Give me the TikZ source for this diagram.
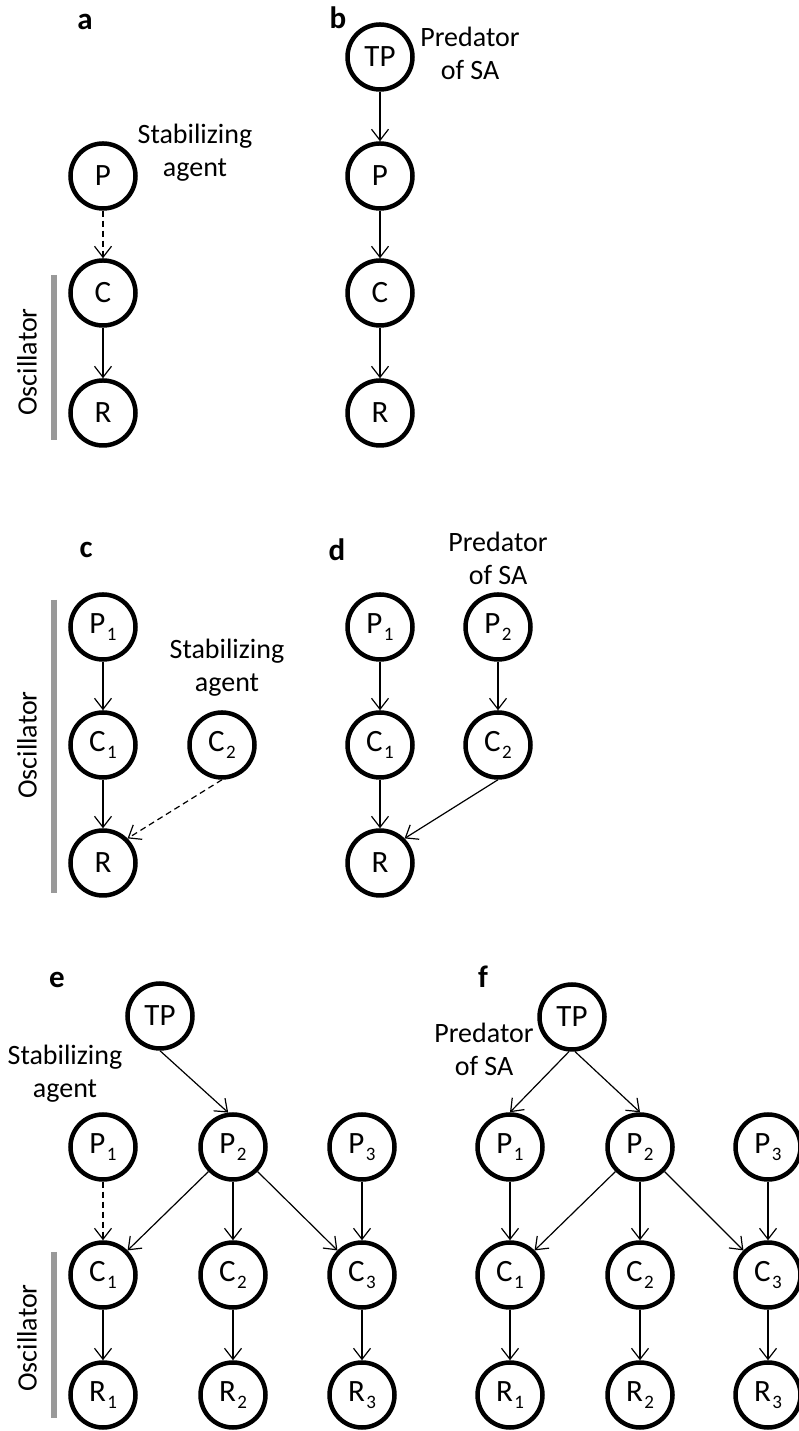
\documentclass[tikz,border=0pt]{standalone}
\usepackage{fontspec}
\setmainfont{Carlito}
\usetikzlibrary{arrows.meta}
\newcommand{\lowsub}[1]{\kern1.5pt\raisebox{-7pt}{\fontsize{19}{19}\selectfont #1}}

\begin{document}
\begin{tikzpicture}[x=1pt,y=1pt,
    font=\fontsize{28}{33}\selectfont,
    pop/.style={circle,draw,line width=4.5pt,minimum size=65pt,inner sep=0pt,
      font=\fontsize{31}{33}\selectfont},
    eat/.style={-{Straight Barb[length=11pt,width=17pt]},line width=1.2pt},
    weak/.style={eat,dash pattern=on 6pt off 4pt},
    panel/.style={font=\fontsize{31}{33}\selectfont\bfseries},
    note/.style={align=center},
    osc/.style={line width=6pt,black!40}]
    \useasboundingbox (0,0) rectangle (798,1431);
    % a: stabilizing agent on top of the oscillator
    \node[panel] (la) at (85,1409) {a};
    \node[pop] (aP) at (103,1255) {P};
    \node[pop] (aC) at (103,1138) {C};
    \node[pop] (aR) at (103,1018) {R};
    \node[note] (aSA) at (195,1278) {Stabilizing\\agent};
    \draw[weak] (aP) -- (aC);
    \draw[eat] (aC) -- (aR);
    \draw[osc] (54,1156) -- (54,991);
    \node[rotate=90] (aOsc) at (27,1069) {Oscillator};
    % b: top predator
    \node[panel] (lb) at (338,1413) {b};
    \node[pop] (bTP) at (380,1374) {TP};
    \node[pop] (bP) at (380,1255) {P};
    \node[pop] (bC) at (380,1138) {C};
    \node[pop] (bR) at (380,1018) {R};
    \node[note] (bSA) at (470,1378) {Predator\\of SA};
    \draw[eat] (bTP) -- (bP);
    \draw[eat] (bP) -- (bC);
    \draw[eat] (bC) -- (bR);
    % c: competing consumer
    \node[panel] (lc) at (86,881) {c};
    \node[pop] (cP1) at (103,804) {P\lowsub{1}};
    \node[pop] (cC1) at (103,686) {C\lowsub{1}};
    \node[pop] (cC2) at (222,686) {C\lowsub{2}};
    \node[pop] (cR) at (103,568) {R};
    \node[note] (cSA) at (227,763) {Stabilizing\\agent};
    \draw[eat] (cP1) -- (cC1);
    \draw[eat] (cC1) -- (cR);
    \draw[weak] (cC2.south) -- (cR.north east);
    \draw[osc] (54,831) -- (54,538);
    \node[rotate=90] (cOsc) at (27,686) {Oscillator};
    % d
    \node[panel] (ld) at (337,881) {d};
    \node[pop] (dP1) at (380,804) {P\lowsub{1}};
    \node[pop] (dP2) at (498,804) {P\lowsub{2}};
    \node[pop] (dC1) at (380,686) {C\lowsub{1}};
    \node[pop] (dC2) at (498,686) {C\lowsub{2}};
    \node[pop] (dR) at (380,568) {R};
    \node[note] (dSA) at (498,873) {Predator\\of SA};
    \draw[eat] (dP1) -- (dC1);
    \draw[eat] (dP2) -- (dC2);
    \draw[eat] (dC1) -- (dR);
    \draw[eat] (dC2.south) -- (dR.north east);
    % e: three chains
    \node[panel] (le) at (57,451) {e};
    \node[pop] (eTP) at (160,415) {TP};
    \foreach \i/\x in {1/103,2/233,3/362} {
      \node[pop] (eP\i) at (\x,284) {P\lowsub{\i}};
      \node[pop] (eC\i) at (\x,156) {C\lowsub{\i}};
      \node[pop] (eR\i) at (\x,36) {R\lowsub{\i}};
      \draw[eat] (eC\i) -- (eR\i);
    }
    \node[note] (eSA) at (65,357) {Stabilizing\\agent};
    \draw[eat] (eTP.south) -- (eP2.98);
    \draw[weak] (eP1) -- (eC1);
    \draw[eat] (eP2.south west) -- (eC1.north east);
    \draw[eat] (eP2) -- (eC2);
    \draw[eat] (eP2.south east) -- (eC3.north west);
    \draw[eat] (eP3) -- (eC3);
    \draw[osc] (54,179) -- (54,13);
    \node[rotate=90] (eOsc) at (27,93) {Oscillator};
    % f
    \node[panel] (lf) at (483,454) {f};
    \node[pop] (fTP) at (572,414) {TP};
    \foreach \i/\x in {1/510,2/640,3/768} {
      \node[pop] (fP\i) at (\x,284) {P\lowsub{\i}};
      \node[pop] (fC\i) at (\x,156) {C\lowsub{\i}};
      \node[pop] (fR\i) at (\x,36) {R\lowsub{\i}};
      \draw[eat] (fP\i) -- (fC\i);
      \draw[eat] (fC\i) -- (fR\i);
    }
    \node[note] (fSA) at (484,382) {Predator\\of SA};
    \draw[eat] (fTP.265) -- (fP1.north);
    \draw[eat] (fTP.275) -- (fP2.north);
    \draw[eat] (fP2.south west) -- (fC1.north east);
    \draw[eat] (fP2.south east) -- (fC3.north west);
\end{tikzpicture}
\end{document}
